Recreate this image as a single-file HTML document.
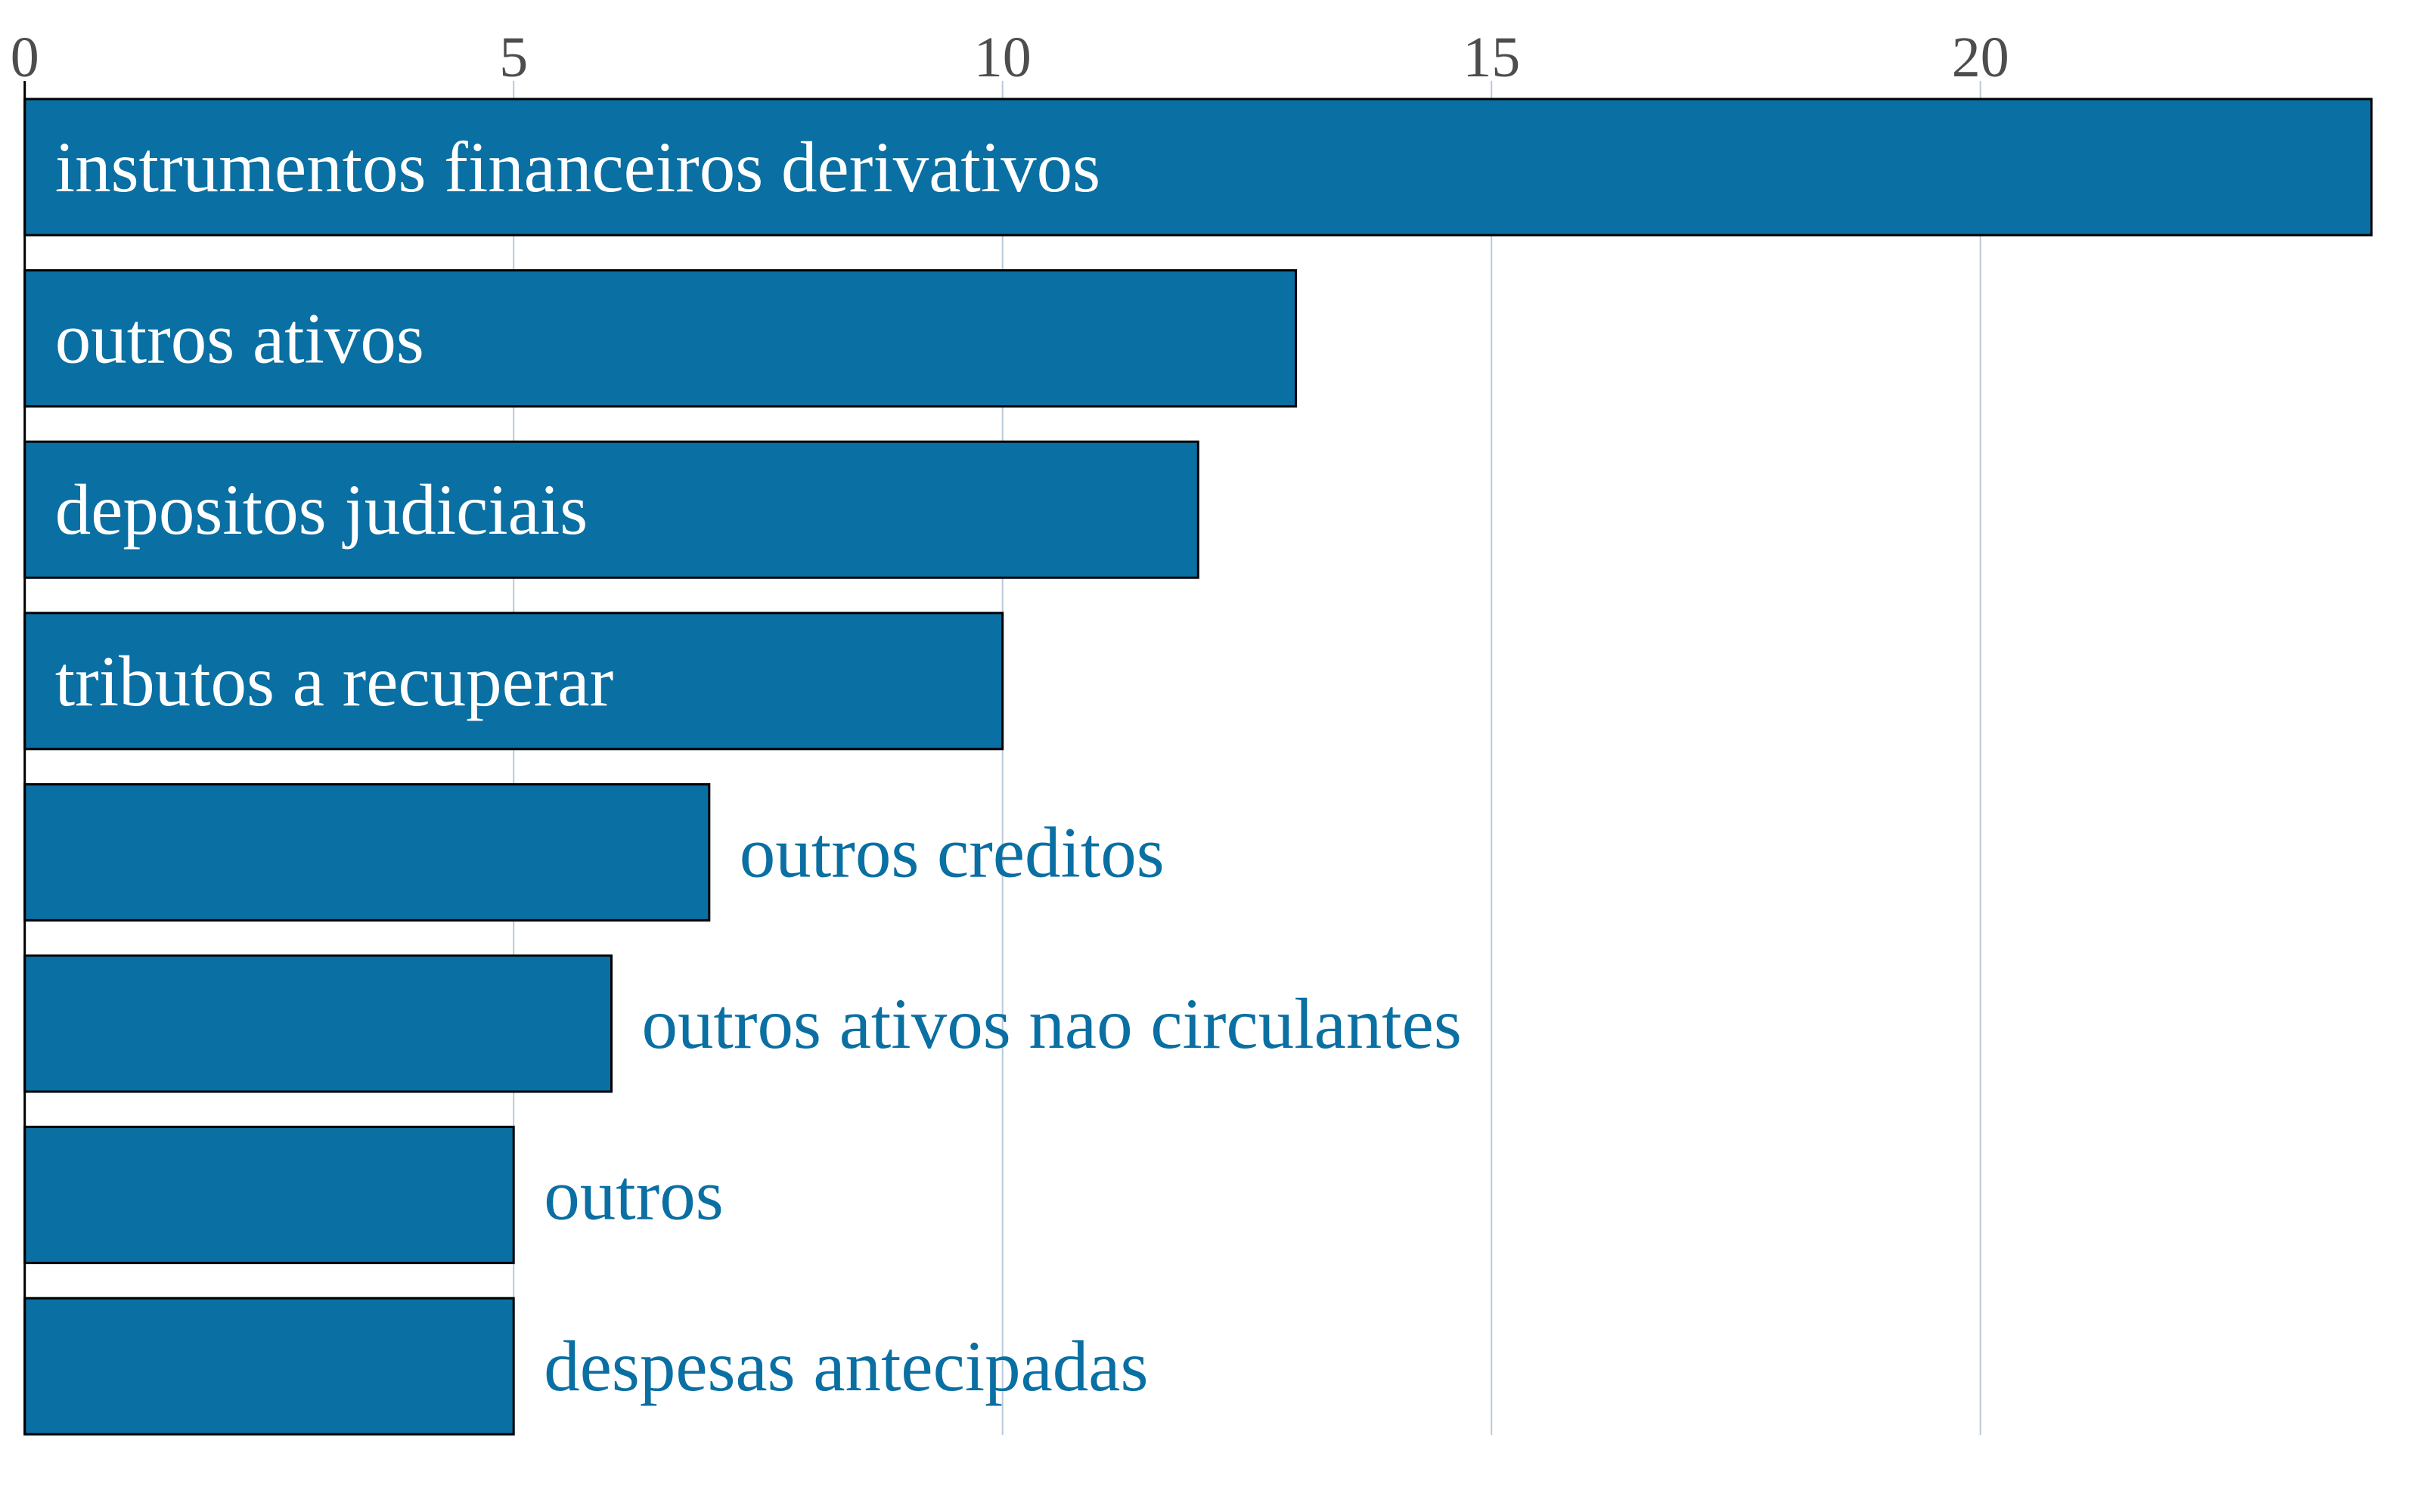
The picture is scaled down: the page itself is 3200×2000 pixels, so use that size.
<!DOCTYPE html>
<html><head><meta charset="utf-8"><style>
html,body{margin:0;padding:0;background:#fff;width:3200px;height:2000px;overflow:hidden}
svg{display:block;font-family:"Liberation Serif",serif}
</style></head><body>
<svg id="chart" width="3200" height="2000" viewBox="0 0 3200 2000"></svg>
<script>
const categories = ["instrumentos financeiros derivativos","outros ativos","depositos judiciais","tributos a recuperar","outros creditos","outros ativos nao circulantes","outros","despesas antecipadas"];
const values = [24, 13, 12, 10, 7, 6, 5, 5];
const tickValues = [0, 5, 10, 15, 20];
const tickLabels = ["0", "5", "10", "15", "20"];

const NS = "http://www.w3.org/2000/svg";
const svg = document.getElementById("chart");
const x0 = 32.7, unit = 129.3, top0 = 131, pitch = 226.6, barH = 180, bottom = 1898;
const xScale = v => x0 + v * unit;
const yScale = i => top0 + i * pitch;
function mk(tag, attrs){const e=document.createElementNS(NS,tag);for(const k in attrs)e.setAttribute(k,attrs[k]);svg.appendChild(e);return e;}

tickValues.forEach((t,i)=>{
  const x = xScale(t);
  if (t !== 0) {
    const g = mk("line",{x1:x,x2:x,y1:107,y2:bottom,stroke:"#b9c9d8","stroke-width":2});
    
    
  }
  const lbl = mk("text",{x:x,y:101,"text-anchor":"middle","font-size":76,fill:"#4d4d4d"});
  lbl.textContent = tickLabels[i];
  
  
});

categories.forEach((c,i)=>{
  const y = yScale(i);
  const w = xScale(values[i]) - x0;
  const r = mk("rect",{x:x0,y:y,width:w,height:barH,fill:"#0a6fa2",stroke:"#000","stroke-width":3});
  
  
  const inside = values[i] >= 10;
  const t = mk("text",{x: inside ? x0+40 : xScale(values[i])+40, y: y+barH/2+32, "font-size":95, fill: inside ? "#fff" : "#0a6fa2"});
  t.textContent = c;
  
  
});

const ax = mk("line",{x1:x0,x2:x0,y1:107,y2:bottom,stroke:"#000","stroke-width":3});


</script>
</body></html>
